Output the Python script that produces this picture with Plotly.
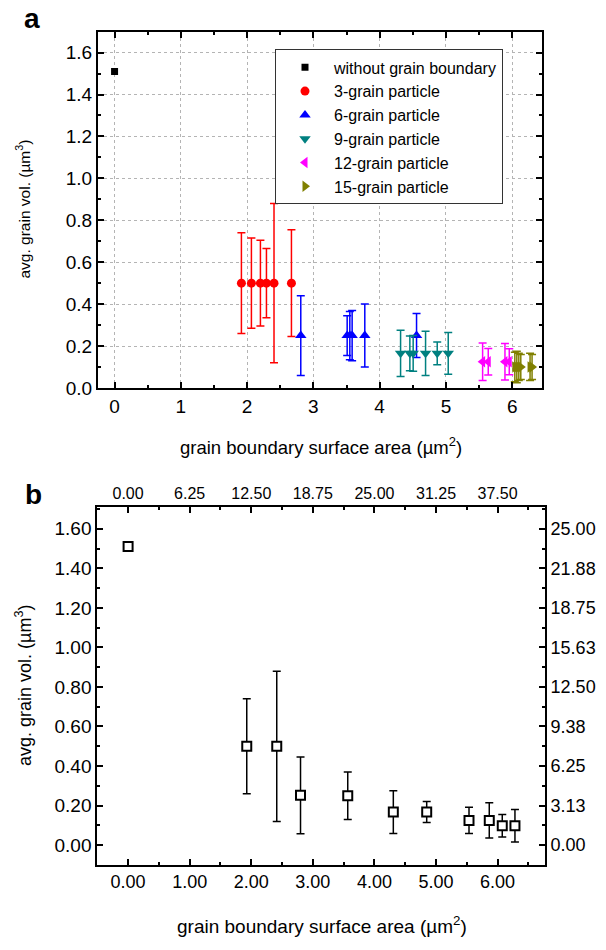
import plotly.graph_objects as go

### DATA ###

# panel a - one series per particle type
x_single = [0.0]
y_single = [1.51]

x_3grain = [1.914, 2.065, 2.201, 2.292, 2.406, 2.669]
y_3grain = [0.50, 0.50, 0.50, 0.50, 0.50, 0.50]
e_3grain = [0.240, 0.215, 0.205, 0.165, 0.380, 0.255]

x_6grain = [2.81, 3.51, 3.55, 3.585, 3.776, 4.557]
y_6grain = [0.25, 0.25, 0.25, 0.25, 0.25, 0.25]
e_6grain = [0.190, 0.095, 0.115, 0.120, 0.150, 0.105]

x_9grain = [4.316, 4.456, 4.506, 4.693, 4.869, 5.035]
y_9grain = [0.165, 0.165, 0.165, 0.165, 0.165, 0.165]
e_9grain = [0.110, 0.083, 0.085, 0.106, 0.054, 0.100]

x_12grain = [5.554, 5.639, 5.891, 5.956]
y_12grain = [0.125, 0.125, 0.125, 0.125]
e_12grain = [0.090, 0.063, 0.087, 0.062]

x_15grain = [6.04, 6.07, 6.10, 6.13, 6.27, 6.30]
y_15grain = [0.10, 0.10, 0.10, 0.10, 0.10, 0.10]
e_15grain = [0.070, 0.075, 0.065, 0.060, 0.065, 0.060]

# panel b - averaged points
x_avg = [0.0, 1.927, 2.414, 2.80, 3.567, 4.307, 4.849, 5.536, 5.865, 6.076, 6.282]
y_avg = [1.51, 0.50, 0.50, 0.252, 0.25, 0.167, 0.167, 0.125, 0.125, 0.098, 0.098]
e_avg = [0.0, 0.240, 0.380, 0.194, 0.120, 0.108, 0.053, 0.066, 0.089, 0.057, 0.082]

# secondary axes (top / right) tick labels
top_vals = [0, 6.25, 12.5, 18.75, 25, 31.25, 37.5]
top_text = ["0.00", "6.25", "12.50", "18.75", "25.00", "31.25", "37.50"]
right_vals = [0, 3.125, 6.25, 9.375, 12.5, 15.625, 18.75, 21.875, 25]
right_text = ["0.00", "3.13", "6.25", "9.38", "12.50", "15.63", "18.75", "21.88", "25.00"]

series_a = [
    ("3-grain particle", x_3grain, y_3grain, e_3grain, "#ff0000", "circle", 9),
    ("6-grain particle", x_6grain, y_6grain, e_6grain, "#0000ff", "triangle-up", 10),
    ("9-grain particle", x_9grain, y_9grain, e_9grain, "#008080", "triangle-down", 10),
    ("12-grain particle", x_12grain, y_12grain, e_12grain, "#ff00ff", "triangle-left", 10),
    ("15-grain particle", x_15grain, y_15grain, e_15grain, "#808000", "triangle-right", 10),
]

### FIGURE ###

W, H = 606, 950
FONT = "Liberation Sans, Arial, sans-serif"

fig = go.Figure()

fig.add_trace(go.Scatter(x=x_single, y=y_single, mode="markers", name="without grain boundary",
                         marker=dict(symbol="square", size=7, color="black"),
                         xaxis="x", yaxis="y"))
for name, xs, ys, es, col, sym, sz in series_a:
    fig.add_trace(go.Scatter(x=xs, y=ys, mode="markers", name=name,
                             marker=dict(symbol=sym, size=sz, color=col),
                             error_y=dict(type="data", array=es, color=col, thickness=1.5, width=4),
                             xaxis="x", yaxis="y"))

fig.add_trace(go.Scatter(x=x_avg, y=y_avg, mode="markers", showlegend=False,
                         marker=dict(symbol="square", size=9, color="white", line=dict(color="black", width=2)),
                         error_y=dict(type="data", array=e_avg, color="black", thickness=1.5, width=4),
                         xaxis="x2", yaxis="y2"))
# empty trace so the top/right axes get drawn
fig.add_trace(go.Scatter(x=[], y=[], showlegend=False, hoverinfo="skip", xaxis="x3", yaxis="y3"))


def ax(size, **kw):
    d = dict(showline=True, linecolor="black", linewidth=2, ticks="inside", ticklen=6, tickwidth=1.5,
             tickcolor="black", zeroline=False, tickfont=dict(size=size, color="black", family=FONT))
    d.update(kw)
    return d


minor = lambda d: dict(ticks="inside", ticklen=3, tickwidth=1.5, tickcolor="black", dtick=d, showgrid=False)
grid = dict(showgrid=True, gridcolor="#b4b4b4", griddash="dot", gridwidth=1)

pa_x = [98 / W, 542 / W]
pa_y = [1 - 392.5 / H, 1 - 32 / H]
pb_x = [97.3 / W, 545 / W]
pb_y = [1 - 875 / H, 1 - 513 / H]

fig.update_layout(
    width=W, height=H, margin=dict(l=0, r=0, t=0, b=0),
    paper_bgcolor="white", plot_bgcolor="white",
    font=dict(family=FONT, color="black", size=16),
    xaxis=ax(19, domain=pa_x, anchor="y", range=[-0.25, 6.45], tick0=0, dtick=1, mirror="ticks",
             minor=minor(0.5), **grid),
    yaxis=ax(19, domain=pa_y, anchor="x", range=[0, 1.70], tick0=0, dtick=0.2, tickformat=".1f",
             mirror="ticks", minor=minor(0.1), **grid),
    xaxis2=ax(18, domain=pb_x, anchor="y2", range=[-0.5, 6.77], tick0=0, dtick=1, tickformat=".2f",
              minor=minor(0.5), showgrid=False),
    yaxis2=ax(19, domain=pb_y, anchor="x2", range=[-0.1, 1.71], tick0=0, dtick=0.2, tickformat=".2f",
              minor=minor(0.1), showgrid=False),
    xaxis3=ax(16, overlaying="x2", anchor="y2", side="top", range=[-0.5 * 6.25, 6.77 * 6.25],
              tickmode="array", tickvals=top_vals, ticktext=top_text,
              minor=minor(3.125), showgrid=False),
    yaxis3=ax(18, overlaying="y2", anchor="x2", side="right", range=[-0.1 * 15.625, 1.71 * 15.625],
              tickmode="array", tickvals=right_vals, ticktext=right_text,
              minor=minor(1.5625), showgrid=False),
    legend=dict(x=275 / W, y=1 - 50 / H, xanchor="left", yanchor="top", bgcolor="white",
                bordercolor="#333333", borderwidth=1, font=dict(size=16, family=FONT, color="black"),
                itemwidth=48, tracegroupgap=0),
    showlegend=True,
)

ann = [
    dict(text="<b>a</b>", x=32 / W, y=1 - 19 / H, font=dict(size=28)),
    dict(text="<b>b</b>", x=33 / W, y=1 - 500 / H, font=dict(size=28)),
    dict(text="grain boundary surface area (µm<sup>2</sup>)", x=321 / W, y=1 - 451 / H, font=dict(size=18.5)),
    dict(text="avg. grain vol. (µm<sup>3</sup>)", x=23 / W, y=1 - 212 / H, textangle=-90, font=dict(size=15.5)),
    dict(text="grain boundary surface area (µm<sup>2</sup>)", x=322 / W, y=1 - 936 / H, font=dict(size=19)),
    dict(text="avg. grain vol. (µm<sup>3</sup>)", x=24 / W, y=1 - 694 / H, textangle=-90, font=dict(size=18)),
]
for a in ann:
    fig.add_annotation(xref="paper", yref="paper", showarrow=False, xanchor="center", yanchor="middle", **a)

# drop the default 8px body margin so the figure sits at the page origin
fig.write_html("out.html", config={"displayModeBar": False},
               post_script="document.body.style.margin='0';")
